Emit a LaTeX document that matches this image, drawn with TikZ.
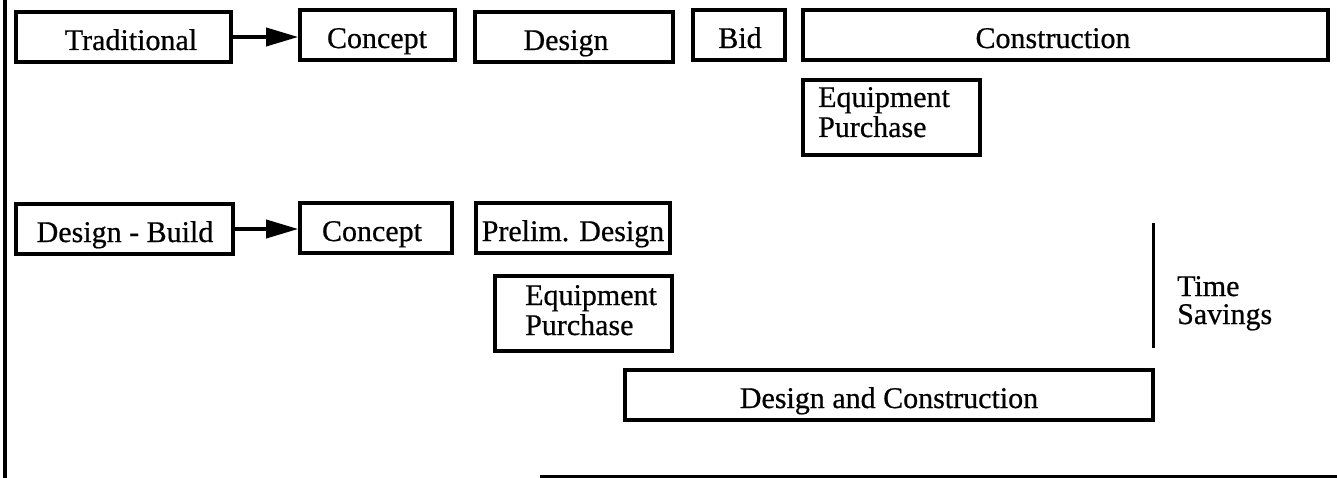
\documentclass[tikz,border=0pt]{standalone}
\usepackage{fontspec}
\setmainfont{Liberation Serif}[FakeBold=0.6]
\usetikzlibrary{arrows.meta}
\begin{document}
\begin{tikzpicture}[x=1pt,y=-1pt,
  box/.style={draw, line width=3.6pt, rectangle, inner sep=0pt},
  lbl/.style={font=\fontsize{30}{30}\selectfont, inner sep=0pt, anchor=base},
  two/.style={font=\fontsize{30}{30}\selectfont, inner sep=0pt, anchor=base west},
  arr/.style={line width=3.6pt, -{Triangle[length=32pt,width=18pt]}},
  rule/.style={line width=3pt}]
\useasboundingbox (0,0) rectangle (1337,478);
% frame lines
\draw[line width=4.5pt] (5,0) -- (5,478);
\draw[rule] (540,476.5) -- (1337,476.5);
% Traditional row
\node[box, minimum width=215pt, minimum height=50pt] (trad) at (123.5,37) {};
\node[box, minimum width=155pt, minimum height=50pt] (con1) at (377.5,35) {};
\node[box, minimum width=198pt, minimum height=50pt] (des) at (574,37) {};
\node[box, minimum width=92pt, minimum height=50pt] (bid) at (739,35) {};
\node[box, minimum width=525pt, minimum height=50pt] (cons) at (1065.5,35) {};
\node[box, minimum width=177pt, minimum height=75pt] (eq1) at (891.5,117.5) {};
\node[lbl] (tTrad) at (131,50) {Traditional};
\node[lbl] (tCon1) at (377,48) {Concept};
\node[lbl] (tDes) at (566,50) {Design};
\node[lbl] (tBid) at (740,48) {Bid};
\node[lbl] (tCons) at (1053,48) {Construction};
\node[two] (tEq1) at (818,107) {\parbox[t]{150pt}{\raggedright Equipment\\Purchase}};
\draw[arr] (trad.east) -- (trad.east -| con1.west);
% Design-Build row
\node[box, minimum width=217pt, minimum height=50pt] (db) at (124.5,229) {};
\node[box, minimum width=152pt, minimum height=50pt] (con2) at (376,228) {};
\node[box, minimum width=194pt, minimum height=50pt] (pre) at (573,228) {};
\node[box, minimum width=177pt, minimum height=75pt] (eq2) at (583.5,313.5) {};
\node[box, minimum width=528pt, minimum height=50pt] (dc) at (889,395) {};
\node[lbl] (tDb) at (125,242) {Design - Build};
\node[lbl] (tCon2) at (372,241) {Concept};
\node[lbl] (tPre) at (573,241) {Prelim. Design};
\node[two] (tEq2) at (525,305) {\parbox[t]{150pt}{\raggedright Equipment\\Purchase}};
\node[lbl] (tDc) at (889,408) {Design and Construction};
\draw[arr] (db.east) -- (db.east -| con2.west);
% time savings
\coordinate (ts1) at (1153,223);
\coordinate (ts2) at (1153,348);
\draw[rule] (ts1) -- (ts2);
\node[two, font=\fontsize{30}{28}\selectfont] (tTs) at (1177,296) {\parbox[t]{150pt}{\raggedright Time\\Savings}};
\end{tikzpicture}
\end{document}
